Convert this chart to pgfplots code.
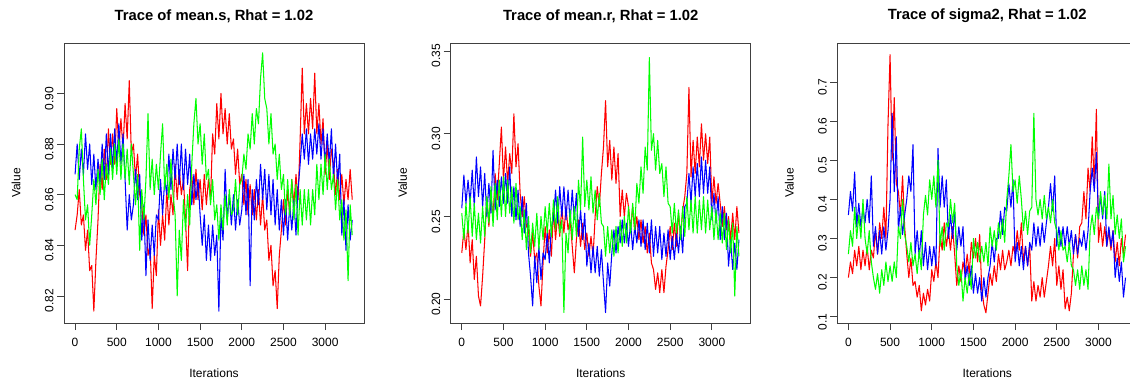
\documentclass[border=0pt]{standalone}
\usepackage{pgfplots}
\pgfplotsset{compat=1.18}
\usepackage{pgfplotstable}
\usepackage{fontspec}
\setmainfont{Liberation Sans}
\definecolor{cR}{RGB}{255,0,0}
\definecolor{cG}{RGB}{0,255,0}
\definecolor{cB}{RGB}{0,0,255}

% mean.s
\pgfplotstableread{
it r b g
0 .846 .868 .860
25 .852 .880 .858
50 .862 .866 .878
75 .848 .878 .886
100 .852 .868 .866
125 .838 .884 .850
150 .846 .870 .856
175 .830 .880 .840
200 .832 .864 .852
225 .814 .876 .866
250 .834 .862 .856
275 .850 .874 .870
300 .872 .864 .860
325 .862 .880 .874
350 .878 .866 .858
375 .866 .884 .872
400 .886 .868 .864
425 .872 .884 .878
450 .884 .870 .866
475 .872 .886 .880
500 .894 .872 .868
525 .878 .888 .882
550 .890 .872 .866
575 .878 .884 .880
600 .896 .866 .866
625 .882 .846 .878
650 .905 .860 .864
675 .876 .850 .880
700 .880 .856 .868
725 .866 .870 .856
750 .876 .858 .868
775 .860 .868 .838
800 .856 .842 .862
825 .844 .856 .850
850 .852 .828 .866
875 .836 .850 .892
900 .840 .834 .862
925 .815 .848 .874
950 .836 .836 .860
975 .828 .852 .872
1000 .854 .850 .862
1025 .840 .866 .876
1050 .852 .852 .888
1075 .842 .866 .862
1100 .862 .860 .872
1125 .848 .876 .858
1150 .860 .862 .874
1175 .852 .878 .860
1200 .872 .866 .852
1225 .858 .880 .820
1250 .870 .864 .846
1275 .860 .880 .834
1300 .866 .862 .858
1325 .850 .878 .846
1350 .830 .864 .860
1375 .862 .876 .848
1400 .868 .856 .872
1425 .856 .868 .888
1450 .870 .858 .898
1475 .858 .866 .880
1500 .866 .852 .888
1525 .854 .840 .872
1550 .868 .852 .884
1575 .856 .834 .866
1600 .866 .848 .870
1625 .858 .834 .856
1650 .884 .848 .866
1675 .876 .836 .850
1700 .896 .844 .856
1725 .882 .814 .842
1750 .900 .852 .856
1775 .884 .842 .846
1800 .894 .870 .860
1825 .880 .850 .848
1850 .892 .860 .862
1875 .878 .848 .852
1900 .882 .860 .854
1925 .868 .846 .866
1950 .878 .858 .852
1975 .864 .848 .864
2000 .868 .854 .866
2025 .856 .868 .876
2050 .866 .852 .870
2075 .852 .866 .884
2100 .864 .824 .878
2125 .852 .862 .892
2150 .862 .850 .880
2175 .850 .866 .894
2200 .862 .856 .888
2225 .848 .872 .906
2250 .860 .858 .916
2275 .846 .870 .898
2300 .850 .854 .894
2325 .834 .868 .880
2350 .840 .852 .892
2375 .824 .866 .876
2400 .830 .848 .880
2425 .815 .862 .866
2450 .836 .846 .876
2475 .846 .858 .862
2500 .858 .844 .868
2525 .848 .858 .852
2550 .862 .842 .866
2575 .852 .856 .852
2600 .866 .846 .866
2625 .856 .858 .850
2650 .868 .844 .864
2675 .858 .862 .844
2700 .882 .872 .862
2725 .910 .884 .848
2750 .884 .874 .862
2775 .896 .886 .850
2800 .884 .872 .862
2825 .898 .884 .848
2850 .886 .874 .862
2875 .908 .886 .852
2900 .884 .876 .872
2925 .896 .888 .858
2950 .880 .874 .872
2975 .890 .886 .860
3000 .868 .872 .876
3025 .880 .884 .862
3050 .866 .872 .874
3075 .878 .886 .862
3100 .872 .866 .868
3125 .860 .880 .854
3150 .870 .864 .866
3175 .858 .876 .850
3200 .868 .844 .858
3225 .856 .858 .842
3250 .866 .838 .854
3275 .858 .856 .826
3300 .870 .842 .856
3325 .858 .850 .844
}\tabS

% mean.r
\pgfplotstableread{
it r b g
0 .228 .255 .252
25 .242 .275 .236
50 .230 .258 .258
75 .246 .272 .240
100 .222 .258 .262
125 .236 .278 .238
150 .212 .256 .258
175 .226 .286 .236
200 .202 .262 .252
225 .196 .280 .234
250 .214 .256 .256
275 .236 .276 .238
300 .262 .250 .262
325 .244 .270 .246
350 .264 .252 .268
375 .248 .290 .244
400 .276 .254 .270
425 .260 .272 .248
450 .282 .256 .272
475 .304 .274 .250
500 .272 .258 .274
525 .292 .276 .250
550 .270 .258 .272
575 .288 .280 .252
600 .276 .250 .268
625 .312 .268 .246
650 .280 .248 .270
675 .294 .266 .248
700 .264 .244 .256
725 .250 .262 .236
750 .262 .240 .254
775 .244 .258 .230
800 .242 .228 .250
825 .226 .214 .228
850 .240 .196 .246
875 .224 .226 .232
900 .228 .210 .252
925 .208 .232 .230
950 .196 .212 .250
975 .222 .228 .236
1000 .244 .224 .256
1025 .228 .240 .240
1050 .242 .222 .258
1075 .226 .244 .238
1100 .254 .248 .260
1125 .236 .266 .242
1150 .252 .246 .262
1175 .238 .268 .240
1200 .256 .250 .248
1225 .240 .268 .192
1250 .256 .248 .240
1275 .242 .266 .228
1300 .248 .246 .254
1325 .232 .266 .236
1350 .216 .248 .256
1375 .236 .264 .238
1400 .248 .238 .272
1425 .232 .254 .254
1450 .246 .236 .298
1475 .230 .252 .256
1500 .240 .220 .272
1525 .226 .234 .254
1550 .238 .216 .274
1575 .226 .232 .252
1600 .250 .216 .266
1625 .268 .232 .248
1650 .256 .214 .264
1675 .276 .230 .246
1700 .292 .210 .244
1725 .320 .192 .226
1750 .280 .222 .244
1775 .296 .208 .228
1800 .272 .228 .242
1825 .292 .242 .226
1850 .270 .228 .244
1875 .288 .244 .228
1900 .250 .234 .248
1925 .266 .248 .232
1950 .250 .234 .250
1975 .264 .246 .234
2000 .256 .232 .256
2025 .242 .246 .240
2050 .256 .230 .258
2075 .240 .244 .242
2100 .250 .234 .270
2125 .236 .248 .258
2150 .248 .232 .280
2175 .234 .248 .264
2200 .244 .230 .292
2225 .228 .246 .278
2250 .240 .228 .346
2275 .222 .248 .290
2300 .218 .226 .300
2325 .206 .244 .278
2350 .216 .228 .296
2375 .204 .244 .276
2400 .218 .224 .282
2425 .204 .240 .262
2450 .220 .226 .280
2475 .230 .242 .258
2500 .244 .224 .256
2525 .230 .238 .240
2550 .246 .224 .258
2575 .232 .240 .240
2600 .252 .228 .254
2625 .238 .244 .236
2650 .254 .228 .256
2675 .262 .256 .238
2700 .276 .258 .262
2725 .328 .276 .242
2750 .274 .258 .260
2775 .296 .280 .240
2800 .276 .262 .262
2825 .298 .282 .240
2850 .280 .262 .260
2875 .306 .286 .242
2900 .284 .264 .262
2925 .300 .284 .240
2950 .282 .264 .260
2975 .298 .280 .242
3000 .258 .248 .256
3025 .274 .264 .236
3050 .258 .246 .254
3075 .270 .262 .236
3100 .258 .236 .252
3125 .244 .256 .234
3150 .256 .236 .252
3175 .242 .252 .230
3200 .250 .220 .248
3225 .236 .236 .228
3250 .252 .218 .246
3275 .236 .234 .202
3300 .256 .218 .244
3325 .240 .236 .226
}\tabR

% sigma2
\pgfplotstableread{
it r b g
0 .200 .360 .260
25 .240 .420 .320
50 .210 .370 .280
75 .270 .470 .380
100 .230 .330 .300
125 .280 .390 .360
150 .220 .330 .300
175 .270 .380 .400
200 .230 .340 .300
225 .280 .400 .260
250 .220 .340 .320
275 .270 .460 .240
300 .250 .280 .200
325 .320 .330 .170
350 .260 .260 .210
375 .340 .320 .160
400 .300 .260 .220
425 .380 .330 .180
450 .300 .270 .240
475 .590 .320 .190
500 .770 .400 .230
525 .500 .620 .190
550 .660 .420 .240
575 .440 .560 .200
600 .420 .320 .330
625 .360 .380 .300
650 .460 .310 .400
675 .330 .360 .310
700 .260 .400 .280
725 .200 .460 .240
750 .250 .420 .290
775 .180 .540 .230
800 .190 .260 .260
825 .150 .320 .210
850 .180 .250 .270
875 .115 .320 .220
900 .160 .230 .360
925 .130 .290 .410
950 .170 .220 .360
975 .140 .280 .450
1000 .220 .230 .400
1025 .190 .280 .460
1050 .240 .230 .380
1075 .200 .530 .500
1100 .310 .380 .280
1125 .270 .460 .330
1150 .340 .380 .270
1175 .280 .450 .340
1200 .320 .300 .330
1225 .270 .360 .400
1250 .330 .300 .340
1275 .260 .370 .390
1300 .180 .270 .230
1325 .230 .330 .180
1350 .190 .280 .220
1375 .240 .330 .140
1400 .210 .190 .200
1425 .260 .230 .160
1450 .210 .180 .210
1475 .290 .230 .170
1500 .250 .160 .300
1525 .300 .210 .250
1550 .240 .160 .290
1575 .310 .200 .240
1600 .170 .140 .280
1625 .130 .200 .240
1650 .110 .150 .290
1675 .160 .200 .230
1700 .210 .230 .330
1725 .180 .290 .280
1750 .230 .240 .320
1775 .190 .300 .270
1800 .260 .300 .340
1825 .220 .370 .300
1850 .270 .310 .350
1875 .220 .380 .290
1900 .240 .370 .400
1925 .270 .440 .460
1950 .230 .380 .540
1975 .280 .450 .420
2000 .260 .240 .450
2025 .320 .290 .390
2050 .270 .230 .460
2075 .340 .280 .400
2100 .240 .220 .320
2125 .280 .280 .370
2150 .230 .230 .310
2175 .280 .290 .370
2200 .140 .270 .380
2225 .190 .340 .620
2250 .140 .280 .400
2275 .180 .330 .360
2300 .150 .280 .400
2325 .200 .340 .350
2350 .150 .290 .410
2375 .190 .340 .350
2400 .230 .380 .380
2425 .280 .440 .340
2450 .230 .370 .400
2475 .300 .460 .340
2500 .180 .280 .320
2525 .230 .330 .270
2550 .170 .280 .320
2575 .220 .330 .270
2600 .120 .280 .280
2625 .150 .330 .240
2650 .115 .280 .290
2675 .160 .320 .230
2700 .260 .260 .220
2725 .310 .310 .180
2750 .250 .260 .220
2775 .330 .300 .170
2800 .340 .280 .230
2825 .420 .320 .180
2850 .350 .270 .220
2875 .480 .320 .170
2900 .420 .420 .320
2925 .560 .480 .360
2950 .440 .420 .310
2975 .630 .520 .380
3000 .290 .350 .350
3025 .340 .410 .420
3050 .280 .350 .360
3075 .330 .420 .410
3100 .280 .280 .350
3125 .320 .330 .490
3150 .270 .280 .350
3175 .320 .320 .410
3200 .240 .200 .310
3225 .290 .250 .360
3250 .230 .190 .300
3275 .300 .240 .350
3300 .260 .150 .240
3325 .310 .200 .280
}\tabV

\pgfplotsset{
  trace/.style={
    scale only axis, width=300pt, height=280pt, anchor=south west,
    xmin=-133, xmax=3466,
    xtick={0,500,1000,1500,2000,2500,3000},
    tick align=outside, tick pos=left,
    major tick length=7pt,
    axis line style={black!75, line width=0.9pt},
    major tick style={black!75, line width=0.8pt},
    tick label style={font=\fontsize{12}{14}\selectfont},
    label style={font=\fontsize{12}{14}\selectfont},
    /pgf/number format/assume math mode=true,
    /pgf/number format/1000 sep={},
    xticklabel style={yshift=-5pt},
    yticklabel style={rotate=90, anchor=south, xshift=-5pt},
    xlabel={Iterations}, ylabel={Value},
    xlabel style={at={(axis description cs:0.5,-0.179)}, anchor=center},
    ylabel style={at={(axis description cs:-0.16,0.5)}, anchor=center},
    title style={font=\bfseries\fontsize{14.8}{17}\selectfont, at={(axis description cs:0.5,1.075)}, anchor=center},
  },
  tr/.style={line width=1.05pt, line join=round},
}

\begin{document}
\begin{tikzpicture}
\useasboundingbox (0pt,0pt) rectangle (1130pt,383pt);
\clip (0pt,0pt) rectangle (1130pt,383pt);

\begin{axis}[trace, at={(64pt,60pt)}, ymin=0.8093, ymax=0.9199,
  ytick={0.82,0.84,0.86,0.88,0.90},
  yticklabel style={/pgf/number format/.cd, fixed, fixed zerofill, precision=2},
  title={Trace of mean.s, Rhat = 1.02}]
\addplot[tr, cR] table[x=it, y=r] {\tabS};
\addplot[tr, cB] table[x=it, y=b] {\tabS};
\addplot[tr, cG] table[x=it, y=g] {\tabS};
\end{axis}

\begin{axis}[trace, at={(450.7pt,60pt)}, ymin=0.1857, ymax=0.3548,
  ytick={0.20,0.25,0.30,0.35},
  yticklabel style={/pgf/number format/.cd, fixed, fixed zerofill, precision=2},
  title={Trace of mean.r, Rhat = 1.02}]
\addplot[tr, cR] table[x=it, y=r] {\tabR};
\addplot[tr, cB] table[x=it, y=b] {\tabR};
\addplot[tr, cG] table[x=it, y=g] {\tabR};
\end{axis}

\begin{axis}[trace, at={(837.3pt,60pt)}, ymin=0.0839, ymax=0.7997,
  ytick={0.1,0.2,0.3,0.4,0.5,0.6,0.7},
  yticklabel style={/pgf/number format/.cd, fixed, fixed zerofill, precision=1},
  title={Trace of sigma2, Rhat = 1.02}]
\addplot[tr, cR] table[x=it, y=r] {\tabV};
\addplot[tr, cB] table[x=it, y=b] {\tabV};
\addplot[tr, cG] table[x=it, y=g] {\tabV};
\end{axis}
\end{tikzpicture}
\end{document}
